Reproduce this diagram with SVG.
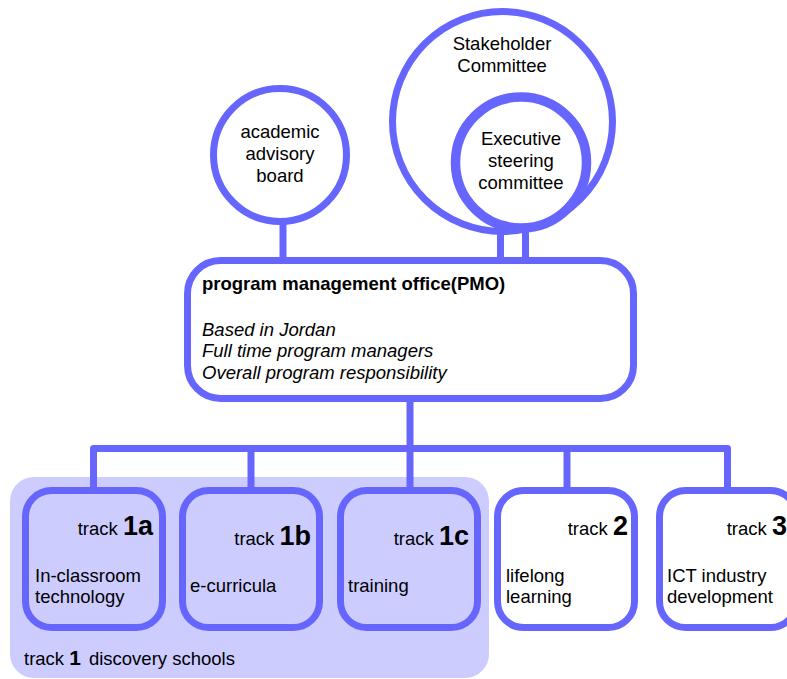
<svg xmlns="http://www.w3.org/2000/svg" width="787" height="679" viewBox="0 0 787 679">
<style>
  .ln { stroke: #6666ff; stroke-width: 7; fill: none; }
  .node { stroke: #6666ff; stroke-width: 7; fill: #ffffff; }
  .node1 { stroke: #6666ff; stroke-width: 7; fill: #ccccff; }
  text { font-family: "Liberation Sans", Arial, sans-serif; font-size: 18.5px; fill: #000000; }
  .c { text-anchor: middle; }
  .e { text-anchor: end; }
  .b { font-weight: bold; }
  .i { font-style: italic; }
  .big { font-weight: bold; font-size: 27px; }
</style>
<rect width="787" height="679" fill="#ffffff"/>

<g id="track1-group">
  <rect x="10" y="477" width="479" height="201" rx="24" fill="#ccccff"/>
  <text x="24" y="665">track <tspan class="b" font-size="21">1</tspan><tspan dx="8">discovery schools</tspan></text>
</g>

<g id="connectors">
  <line class="ln" x1="283" y1="220" x2="283" y2="261"/>
  <line class="ln" x1="500.5" y1="228" x2="500.5" y2="261"/>
  <line class="ln" x1="525.5" y1="228" x2="525.5" y2="261"/>
  <line class="ln" x1="410" y1="398" x2="410" y2="449"/>
  <path class="ln" stroke-linejoin="round" d="M93.5,490 V448.5 H727.5 V490"/>
  <line class="ln" x1="251" y1="448" x2="251" y2="490"/>
  <line class="ln" x1="410" y1="448" x2="410" y2="490"/>
  <line class="ln" x1="567" y1="448" x2="567" y2="490"/>
</g>

<g id="stakeholder">
  <circle cx="502.5" cy="121.5" r="110" class="node"/>
  <text class="c" x="502" y="50">Stakeholder</text>
  <text class="c" x="502" y="72">Committee</text>
</g>

<g id="executive">
  <circle cx="521" cy="162.5" r="65.5" fill="#ffffff" stroke="#6666ff" stroke-width="9.5"/>
  <text class="c" x="521" y="145">Executive</text>
  <text class="c" x="521" y="167">steering</text>
  <text class="c" x="521" y="189">committee</text>
</g>

<g id="academic">
  <circle cx="280" cy="155" r="66.5" class="node"/>
  <text class="c" x="280" y="138">academic</text>
  <text class="c" x="280" y="160">advisory</text>
  <text class="c" x="280" y="182">board</text>
</g>

<g id="pmo">
  <rect x="187.5" y="260.5" width="446" height="138" rx="33" class="node"/>
  <text class="b" x="202" y="290" font-size="18.7">program management office(PMO)</text>
  <text class="i" x="202" y="336">Based in Jordan</text>
  <text class="i" x="202" y="357">Full time program managers</text>
  <text class="i" x="202" y="378.5">Overall program responsibility</text>
</g>

<g id="track1a">
  <rect x="25.5" y="490.5" width="137" height="137" rx="26" class="node1"/>
  <text class="e" x="153" y="535">track <tspan class="big">1a</tspan></text>
  <text x="35" y="582">In-classroom</text>
  <text x="35" y="603">technology</text>
</g>

<g id="track1b">
  <rect x="182.5" y="490.5" width="137" height="137" rx="26" class="node1"/>
  <text class="e" x="311" y="545">track <tspan class="big">1b</tspan></text>
  <text x="190" y="592">e-curricula</text>
</g>

<g id="track1c">
  <rect x="340.5" y="490.5" width="137" height="137" rx="26" class="node1"/>
  <text class="e" x="469" y="545">track <tspan class="big">1c</tspan></text>
  <text x="348" y="592">training</text>
</g>

<g id="track2">
  <rect x="497.5" y="490.5" width="137" height="137" rx="26" class="node"/>
  <text class="e" x="628" y="535">track <tspan class="big">2</tspan></text>
  <text x="506" y="582">lifelong</text>
  <text x="506" y="603">learning</text>
</g>

<g id="track3">
  <rect x="659.5" y="490.5" width="137" height="137" rx="26" class="node"/>
  <text class="e" x="787" y="535">track <tspan class="big">3</tspan></text>
  <text x="667" y="582">ICT industry</text>
  <text x="667" y="603">development</text>
</g>
</svg>
